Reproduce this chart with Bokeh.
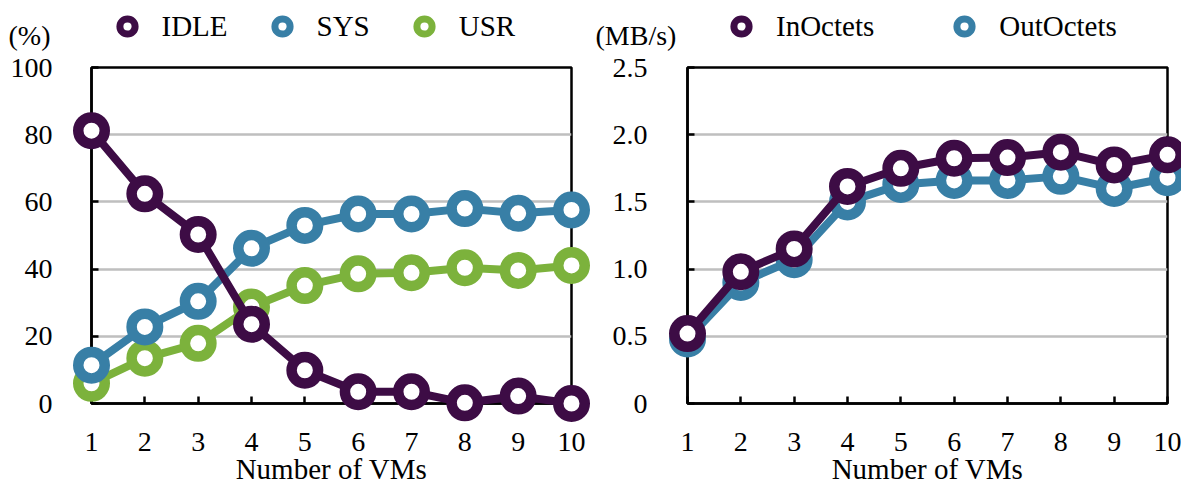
from bokeh.plotting import figure
from bokeh.models import ColumnDataSource, Legend, LegendItem, Label, FixedTicker, Range1d
from bokeh.layouts import row, column
from bokeh.embed import file_html
from bokeh.resources import INLINE

# ---- data ----
vms = [1, 2, 3, 4, 5, 6, 7, 8, 9, 10]
idle = [81.2, 62.4, 50.3, 23.6, 9.9, 3.5, 3.5, 0.2, 2.2, 0.0]
sys_ = [11.4, 22.8, 30.4, 46.2, 53.0, 56.4, 56.4, 58.0, 56.6, 57.6]
usr = [6.0, 13.5, 17.9, 28.7, 35.1, 38.6, 38.9, 40.4, 39.6, 41.1]
in_octets = [0.52, 0.98, 1.15, 1.615, 1.75, 1.825, 1.83, 1.87, 1.775, 1.85]
out_octets = [0.48, 0.90, 1.07, 1.50, 1.63, 1.66, 1.66, 1.69, 1.60, 1.68]

cpu_ticks = [0, 20, 40, 60, 80, 100]
net_ticks = [0, 0.5, 1.0, 1.5, 2.0, 2.5]
net_labels = {0: "0", 0.5: "0.5", 1.0: "1.0", 1.5: "1.5", 2.0: "2.0", 2.5: "2.5"}

PURPLE = "#3d0c45"
BLUE = "#387fa6"
GREEN = "#7cb23c"
FONT = "Liberation Serif"
NAN = float("nan")

HEAD_H = 51


def make_fig(width, bl, br, ymax, yticks, ystandoff):
    p = figure(width=width, height=487 - HEAD_H, x_range=Range1d(1, 10), y_range=Range1d(0, ymax),
               output_backend="svg", toolbar_location=None,
               min_border_left=bl, min_border_right=br, min_border_top=67 - HEAD_H,
               min_border_bottom=83)
    p.background_fill_color = "white"
    p.border_fill_color = "white"
    p.outline_line_color = "black"
    p.outline_line_width = 2.5
    p.xgrid.visible = False
    p.ygrid.ticker = FixedTicker(ticks=yticks[1:-1])
    p.ygrid.grid_line_color = "#bfbfbf"
    p.ygrid.grid_line_width = 2.5
    p.xaxis.ticker = FixedTicker(ticks=vms)
    p.yaxis.ticker = FixedTicker(ticks=yticks)
    for ax in (p.xaxis[0], p.yaxis[0]):
        ax.axis_line_color = "black"
        ax.axis_line_width = 2.5
        ax.major_tick_in = 7
        ax.major_tick_out = 0
        ax.major_tick_line_width = 2.5
        ax.major_tick_line_color = "black"
        ax.minor_tick_line_color = None
        ax.major_label_text_font = FONT
        ax.major_label_text_font_size = "28px"
        ax.major_label_text_color = "black"
    p.xaxis.major_label_standoff = 29
    p.yaxis.major_label_standoff = ystandoff
    p.xaxis.axis_label = "Number of VMs"
    p.xaxis.axis_label_text_font = FONT
    p.xaxis.axis_label_text_font_size = "29px"
    p.xaxis.axis_label_text_font_style = "normal"
    p.xaxis.axis_label_text_color = "black"
    p.xaxis.axis_label_standoff = -1
    return p


def series(p, y, color):
    src = ColumnDataSource(dict(x=vms, y=y))
    ln = p.line("x", "y", source=src, line_color=color, line_width=8)
    sc = p.scatter("x", "y", source=src, size=26.5, line_width=10.5, line_color=color,
                   fill_color="white")
    ln.level = "overlay"
    sc.level = "overlay"


# header strip holding the legends and unit labels
head = figure(width=1181, height=HEAD_H, x_range=Range1d(0, 1), y_range=Range1d(0, 1),
              x_axis_type=None, y_axis_type=None, output_backend="svg", toolbar_location=None,
              min_border_left=0, min_border_right=0, min_border_top=0, min_border_bottom=0)
head.grid.visible = False
head.outline_line_color = None
head.background_fill_color = "white"
head.border_fill_color = "white"


def key(color):
    # legend swatch (single NaN point: nothing is drawn in the plot area)
    return head.scatter("x", "y", source=ColumnDataSource(dict(x=[NAN], y=[NAN])), size=15,
                        line_width=7, line_color=color, fill_color="white")


def add_legend(items, x, spacing):
    lg = Legend(items=items, orientation="horizontal", location=(x, HEAD_H - 45),
                glyph_width=38, glyph_height=38, label_standoff=16, spacing=spacing,
                padding=0, margin=0, border_line_color=None, background_fill_alpha=0,
                label_text_font=FONT, label_text_font_size="29px", label_text_color="black")
    head.add_layout(lg)


def add_unit(text, x):
    head.add_layout(Label(x=x, y=HEAD_H - 35, x_units="screen", y_units="screen", text=text,
                          text_font=FONT, text_font_size="28px", text_color="black",
                          text_baseline="alphabetic", text_align="left"))


add_legend([LegendItem(label="IDLE", renderers=[key(PURPLE)]),
            LegendItem(label="SYS", renderers=[key(BLUE)]),
            LegendItem(label="USR", renderers=[key(GREEN)])], 107.5, 35)
add_legend([LegendItem(label="InOctets", renderers=[key(PURPLE)]),
            LegendItem(label="OutOctets", renderers=[key(BLUE)])], 722, 71)
add_unit("(%)", 8)
add_unit("(MB/s)", 595)

# left: CPU utilisation
p1 = make_fig(598, 91, 27, 100, cpu_ticks, 39)
series(p1, usr, GREEN)
series(p1, sys_, BLUE)
series(p1, idle, PURPLE)

# right: network throughput
p2 = make_fig(583, 89, 14, 2.5, net_ticks, 40)
p2.yaxis.major_label_overrides = net_labels
series(p2, out_octets, BLUE)
series(p2, in_octets, PURPLE)

layout = column(head, row(p1, p2))
open("out.html", "w").write(file_html(layout, INLINE))
